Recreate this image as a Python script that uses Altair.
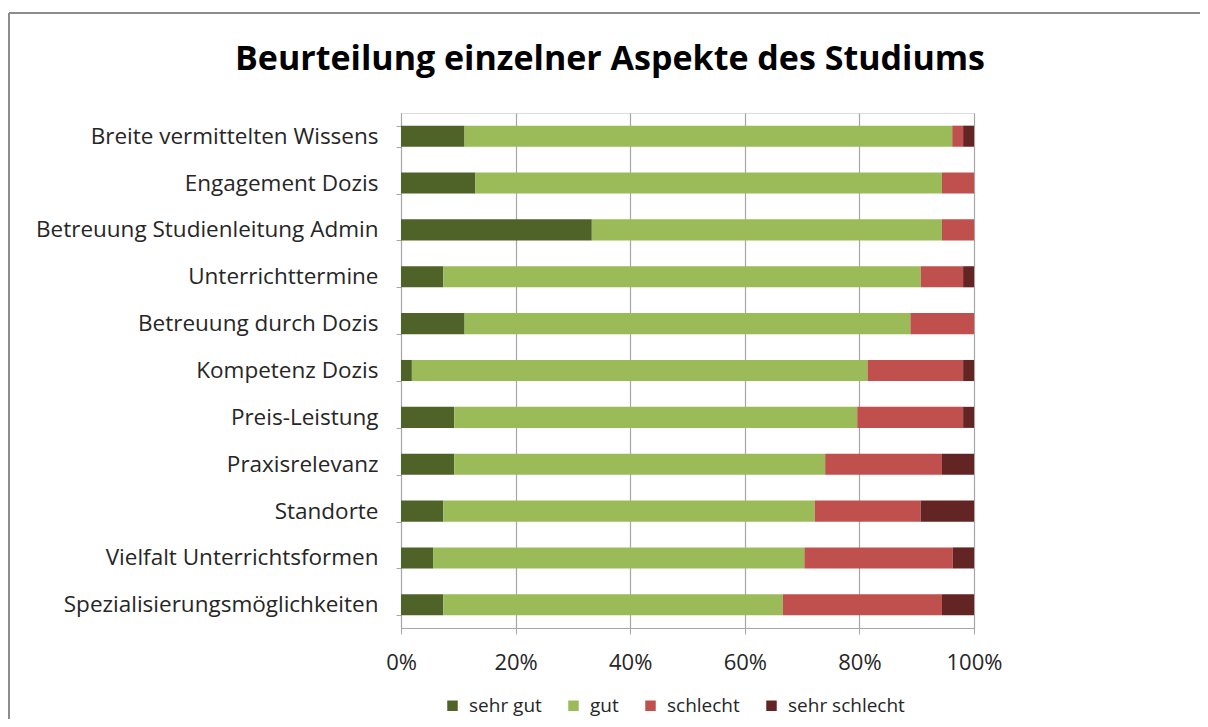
import altair as alt
import pandas as pd

categories = [
    "Breite vermittelten Wissens",
    "Engagement Dozis",
    "Betreuung Studienleitung Admin",
    "Unterrichttermine",
    "Betreuung durch Dozis",
    "Kompetenz Dozis",
    "Preis-Leistung",
    "Praxisrelevanz",
    "Standorte",
    "Vielfalt Unterrichtsformen",
    "Spezialisierungsmöglichkeiten",
]
series = ["sehr gut", "gut", "schlecht", "sehr schlecht"]
colors = ["#4F6228", "#9BBB59", "#C0504D", "#632523"]
title_text = "Beurteilung einzelner Aspekte des Studiums"

sehr_gut = [11.1, 13.0, 33.3, 7.4, 11.1, 1.9, 9.3, 9.3, 7.4, 5.6, 7.4]
gut = [85.2, 81.5, 61.1, 83.3, 77.8, 79.6, 70.4, 64.8, 64.8, 64.8, 59.3]
schlecht = [1.9, 5.6, 5.6, 7.4, 11.1, 16.7, 18.5, 20.4, 18.5, 25.9, 27.8]
sehr_schlecht = [1.9, 0.0, 0.0, 1.9, 0.0, 1.9, 1.9, 5.6, 9.3, 3.7, 5.6]

rows = []
for i, c in enumerate(categories):
    for j, (s, vals) in enumerate(zip(series, [sehr_gut, gut, schlecht, sehr_schlecht])):
        rows.append({"Aspekt": c, "Bewertung": s, "Anteil": vals[i], "ord": j})
df = pd.DataFrame(rows)

FONT = "Open Sans"
TXT = "#262626"
W, H = 573, 515
PL, PT = 393, 105
TOTW, TOTH = 1192, 711

bars = alt.Chart(df).mark_bar().encode(
    y=alt.Y("Aspekt:N", sort=categories, title=None,
            scale=alt.Scale(paddingInner=0.55, paddingOuter=0.27),
            axis=alt.Axis(labelFont=FONT, labelFontSize=22.5, labelColor=TXT,
                          labelPadding=18, domainColor="#A6A6A6", tickColor="#A6A6A6",
                          tickSize=5, tickBand="extent", grid=False, labelLimit=400)),
    x=alt.X("Anteil:Q", stack="normalize", title=None,
            scale=alt.Scale(domain=[0, 1], nice=False),
            axis=alt.Axis(format=".0%", values=[0, 0.2, 0.4, 0.6, 0.8, 1.0],
                          labelFont=FONT, labelFontSize=22, labelColor=TXT,
                          labelPadding=18, domainColor="#A6A6A6", tickColor="#A6A6A6",
                          tickSize=6, grid=True, gridColor="#A6A6A6", gridWidth=1.2,
                          labelFlush=False)),
    color=alt.Color("Bewertung:N", sort=series,
                    scale=alt.Scale(domain=series, range=colors),
                    legend=alt.Legend(title=None, orient="none", legendX=42, legendY=583,
                                      direction="horizontal", columns=4,
                                      symbolType="square", symbolSize=110,
                                      symbolStrokeWidth=0, labelFont=FONT,
                                      labelFontSize=19, labelColor=TXT,
                                      columnPadding=22, labelOffset=7)),
    order=alt.Order("ord:Q"),
)

frame_df = pd.DataFrame({"k": [0]})
top_line = alt.Chart(frame_df).mark_rule(color="#8C8C8C", strokeWidth=2).encode(
    x=alt.value(-PL + 1), x2=alt.value(TOTW - PL), y=alt.value(-PT + 5))
left_line = alt.Chart(frame_df).mark_rule(color="#8C8C8C", strokeWidth=2).encode(
    x=alt.value(-PL + 1), y=alt.value(-PT + 5), y2=alt.value(TOTH - PT))
title = alt.Chart(pd.DataFrame({"t": [title_text]})).mark_text(
    font=FONT, fontSize=34, fontWeight="bold", color="#000000",
    align="center", baseline="middle").encode(
    text="t:N", x=alt.value(610 - 8 - PL), y=alt.value(60 - 8 - PT))

chart = alt.layer(bars, top_line, left_line, title).properties(
    width=W, height=H,
    autosize=alt.AutoSizeParams(type="none"),
    padding={"left": PL, "top": PT, "right": TOTW - PL - W, "bottom": TOTH - PT - H},
).configure_view(stroke=None).configure(background="white")

chart.save("out.html", embed_options={"renderer": "svg", "actions": False})
